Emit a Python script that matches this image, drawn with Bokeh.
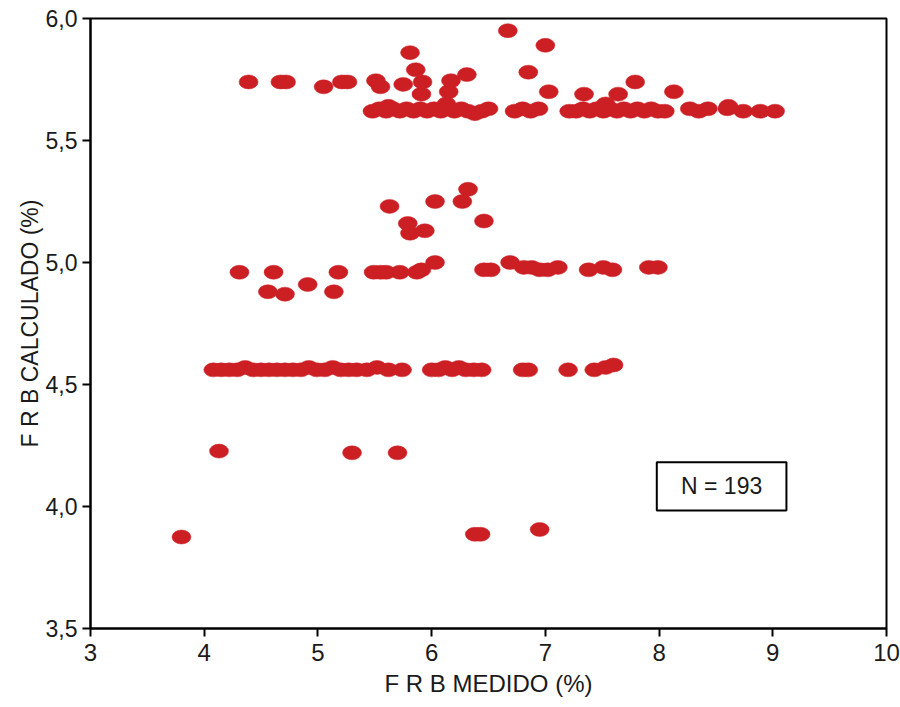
from bokeh.plotting import figure
from bokeh.models import Range1d, FixedTicker, CustomJSTickFormatter, BoxAnnotation, Label, ColumnDataSource
from bokeh.embed import file_html
from bokeh.resources import INLINE

# --- data ---
# top row (~5.63)
top_row_x = [5.48, 5.54, 5.60, 5.66, 5.72, 5.78, 5.84, 5.90, 5.96, 6.02, 6.08, 6.14, 6.20, 6.26,
             6.32, 6.38, 6.44, 6.50, 6.73, 6.80, 6.87, 6.94, 7.21, 7.27, 7.33, 7.39, 7.45, 7.51,
             7.57, 7.63, 7.69, 7.75, 7.81, 7.87, 7.93, 7.99, 8.05, 8.27, 8.35, 8.43, 8.60, 8.74,
             8.89, 9.02]
top_row_y = [5.62, 5.63, 5.62, 5.63, 5.62, 5.63, 5.62, 5.63, 5.62, 5.63, 5.62, 5.63, 5.62, 5.63,
             5.62, 5.61, 5.62, 5.63, 5.62, 5.63, 5.62, 5.63, 5.62, 5.62, 5.63, 5.62, 5.63, 5.62,
             5.63, 5.62, 5.63, 5.62, 5.63, 5.62, 5.63, 5.62, 5.62, 5.63, 5.62, 5.63, 5.63, 5.62,
             5.62, 5.62]
# points above the top row
upper_x = [6.67, 7.00, 5.81, 5.86, 5.51, 5.55, 5.75, 5.92, 5.91, 6.17, 6.15, 6.31, 6.85, 7.03,
           6.13, 7.34, 7.64, 7.79, 8.13, 7.53, 8.61, 4.39, 4.67, 4.72, 5.05, 5.21, 5.26, 5.62]
upper_y = [5.95, 5.89, 5.86, 5.79, 5.745, 5.72, 5.73, 5.74, 5.69, 5.745, 5.70, 5.77, 5.78, 5.70,
           5.65, 5.69, 5.69, 5.74, 5.70, 5.65, 5.64, 5.74, 5.74, 5.74, 5.72, 5.74, 5.74, 5.64]
# middle cluster (5.1 - 5.3)
mid_x = [6.32, 6.27, 6.03, 5.63, 6.46, 5.79, 5.81, 5.94]
mid_y = [5.30, 5.25, 5.25, 5.23, 5.17, 5.16, 5.12, 5.13]
# row ~4.97
row5_x = [4.31, 4.61, 5.18, 5.49, 5.55, 5.60, 5.72, 5.87, 5.91, 6.03, 6.46, 6.52, 6.69, 6.81,
          6.88, 6.95, 7.02, 7.11, 7.38, 7.51, 7.59, 7.91, 7.99]
row5_y = [4.96, 4.96, 4.96, 4.96, 4.96, 4.96, 4.96, 4.96, 4.97, 5.00, 4.97, 4.97, 5.00, 4.98,
          4.98, 4.97, 4.97, 4.98, 4.97, 4.98, 4.97, 4.98, 4.98]
# below row ~4.97
low5_x = [4.56, 4.71, 4.91, 5.14]
low5_y = [4.88, 4.87, 4.91, 4.88]
# row ~4.56
row45_x = [4.08, 4.15, 4.22, 4.29, 4.36, 4.43, 4.50, 4.57, 4.64, 4.71, 4.78, 4.85, 4.92, 4.99,
           5.06, 5.13, 5.20, 5.27, 5.34, 5.43, 5.52, 5.62, 5.74, 6.00, 6.06, 6.12, 6.18, 6.24,
           6.30, 6.37, 6.44, 6.80, 6.85, 7.20, 7.43, 7.53, 7.60]
row45_y = [4.56, 4.56, 4.56, 4.56, 4.57, 4.56, 4.56, 4.56, 4.56, 4.56, 4.56, 4.56, 4.57, 4.56,
           4.56, 4.57, 4.56, 4.56, 4.56, 4.56, 4.57, 4.56, 4.56, 4.56, 4.56, 4.57, 4.56, 4.57,
           4.56, 4.56, 4.56, 4.56, 4.56, 4.56, 4.56, 4.57, 4.58]
# lowest points
bottom_x = [4.13, 5.30, 5.70, 3.80, 6.38, 6.43, 6.95]
bottom_y = [4.227, 4.22, 4.22, 3.875, 3.886, 3.886, 3.906]

x_ticks = [3, 4, 5, 6, 7, 8, 9, 10]
y_ticks = [3.5, 4.0, 4.5, 5.0, 5.5, 6.0]
n_label = "N = 193"

xs = top_row_x + upper_x + mid_x + row5_x + low5_x + row45_x + bottom_x
ys = top_row_y + upper_y + mid_y + row5_y + low5_y + row45_y + bottom_y
src = ColumnDataSource(dict(x=xs, y=ys))

p = figure(width=900, height=707, output_backend="svg", toolbar_location=None,
           x_range=Range1d(3, 10), y_range=Range1d(3.5, 6.0),
           min_border_left=90, min_border_right=14, min_border_top=18, min_border_bottom=79)
p.xgrid.visible = False
p.ygrid.visible = False
p.outline_line_color = "black"
p.outline_line_width = 2
p.outline_line_alpha = 1
p.background_fill_color = "white"
p.border_fill_color = "white"

p.ellipse(x="x", y="y", width=19, height=14, width_units="screen", height_units="screen",
          source=src, fill_color="#cc1f24", line_color="#cc1f24", line_width=0.5)

for ax in (p.xaxis[0], p.yaxis[0]):
    ax.axis_line_color = "black"
    ax.axis_line_width = 2
    ax.major_tick_line_color = "black"
    ax.major_tick_line_width = 2
    ax.major_tick_out = 8
    ax.major_tick_in = 0
    ax.minor_tick_out = 0
    ax.minor_tick_in = 0
    ax.major_label_text_color = "#1a1a1a"
    ax.axis_label_text_color = "#1a1a1a"
    ax.axis_label_text_font_style = "normal"

p.xaxis.ticker = FixedTicker(ticks=x_ticks)
p.yaxis.ticker = FixedTicker(ticks=y_ticks)
p.yaxis.formatter = CustomJSTickFormatter(code="return tick.toFixed(1).replace('.', ',');")

p.xaxis.axis_label = "F R B MEDIDO (%)"
p.yaxis.axis_label = "F R B CALCULADO (%)"
p.xaxis.major_label_text_font = "Liberation Sans"
p.xaxis.major_label_text_font_size = "24px"
p.xaxis.axis_label_text_font = "Liberation Sans"
p.xaxis.axis_label_text_font_size = "24px"
p.xaxis.major_label_standoff = 7
p.xaxis.axis_label_standoff = 6
p.yaxis.major_label_text_font = "Liberation Sans"
p.yaxis.major_label_text_font_size = "23px"
p.yaxis.axis_label_text_font = "Liberation Sans"
p.yaxis.axis_label_text_font_size = "23px"
p.yaxis.major_label_standoff = 5
p.yaxis.axis_label_standoff = 0

box = BoxAnnotation(left=7.98, right=9.12, bottom=3.984, top=4.181,
                    fill_alpha=0, line_color="black", line_alpha=1, line_width=2)
p.add_layout(box)
p.add_layout(Label(x=8.55, y=4.082, text=n_label, text_align="center", text_baseline="middle",
                   text_font="Liberation Sans", text_font_size="23px", text_color="#1a1a1a"))

open("out.html", "w").write(file_html(p, INLINE))
